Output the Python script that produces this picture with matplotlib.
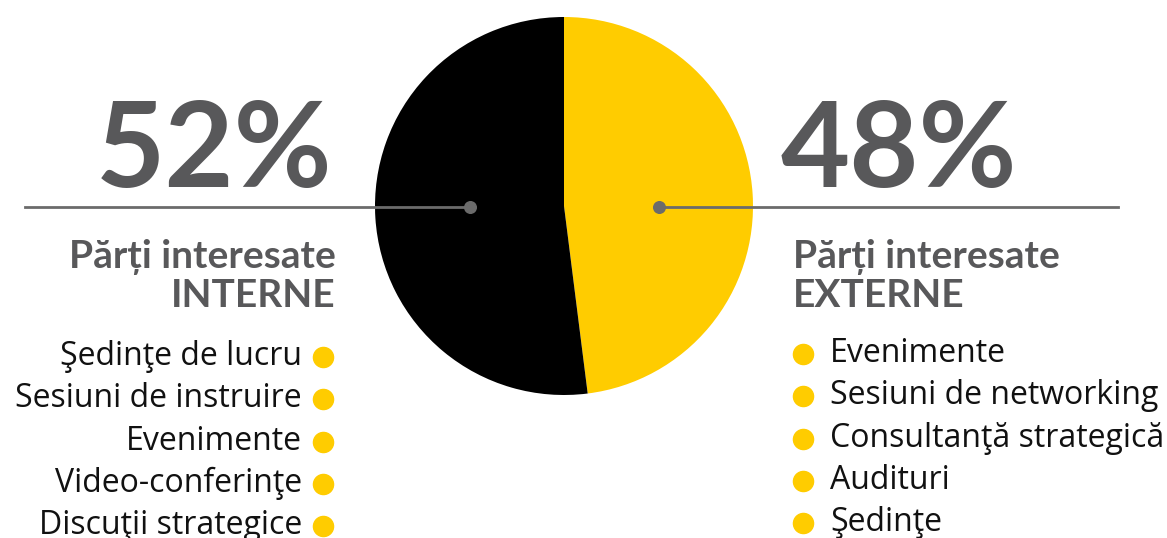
import matplotlib.pyplot as plt

W, H = 1167, 538

shares = [48, 52]  # externe, interne
share_colors = ['#FFCC00', '#000000']
pct_left = '52%'
pct_right = '48%'
title_left = ['Părți interesate', 'INTERNE']
title_right = ['Părți interesate', 'EXTERNE']
items_left = ['Şedinţe de lucru', 'Sesiuni de instruire', 'Evenimente',
              'Video-conferinţe', 'Discuţii strategice']
items_right = ['Evenimente', 'Sesiuni de networking', 'Consultanţă strategică',
               'Audituri', 'Şedinţe']

grey = '#58585a'
yellow = '#FFCC00'

fig = plt.figure(figsize=(W / 100, H / 100), dpi=100)
ax = fig.add_axes([0, 0, 1, 1])

def Y(y):
    return H - y

# pie
ax.pie(shares, colors=share_colors, startangle=90, counterclock=False,
       center=(564, Y(206)), radius=189, frame=True)
ax.set_xlim(0, W)
ax.set_ylim(0, H)
ax.set_aspect('equal')
ax.axis('off')

# leader lines
ax.plot([25, 470], [Y(207), Y(207)], color='#6b6b6b', lw=2, zorder=3)
ax.plot([659, 1118], [Y(207), Y(207)], color='#6b6b6b', lw=2, zorder=3)
ax.scatter([470, 659], [Y(207), Y(207)], s=70, color='#6b6b6b', zorder=4)

head = dict(family=['Lato', 'DejaVu Sans'], fontweight='bold', color=grey)
ax.text(332, Y(187), pct_left, ha='right', va='baseline', fontsize=86, **head)
ax.text(781, Y(187), pct_right, ha='left', va='baseline', fontsize=86, **head)

ax.text(336, Y(268), title_left[0], ha='right', va='baseline', fontsize=28, **head)
ax.text(336, Y(307), title_left[1], ha='right', va='baseline', fontsize=28, **head)
ax.text(793, Y(268), title_right[0], ha='left', va='baseline', fontsize=28, **head)
ax.text(793, Y(307), title_right[1], ha='left', va='baseline', fontsize=28, **head)

body = dict(family=['Open Sans', 'DejaVu Sans'], color='#111111', fontsize=23)
step = 42.3
for i, t in enumerate(items_left):
    yb = 365 + i * step
    ax.text(302, Y(yb), t, ha='right', va='baseline', **body)
    ax.scatter([323], [Y(yb - 8)], s=210, color=yellow, zorder=4)
for i, t in enumerate(items_right):
    yb = 362 + i * step
    ax.text(830, Y(yb), t, ha='left', va='baseline', **body)
    ax.scatter([803], [Y(yb - 8)], s=210, color=yellow, zorder=4)

fig.savefig('out.png', dpi=100)
